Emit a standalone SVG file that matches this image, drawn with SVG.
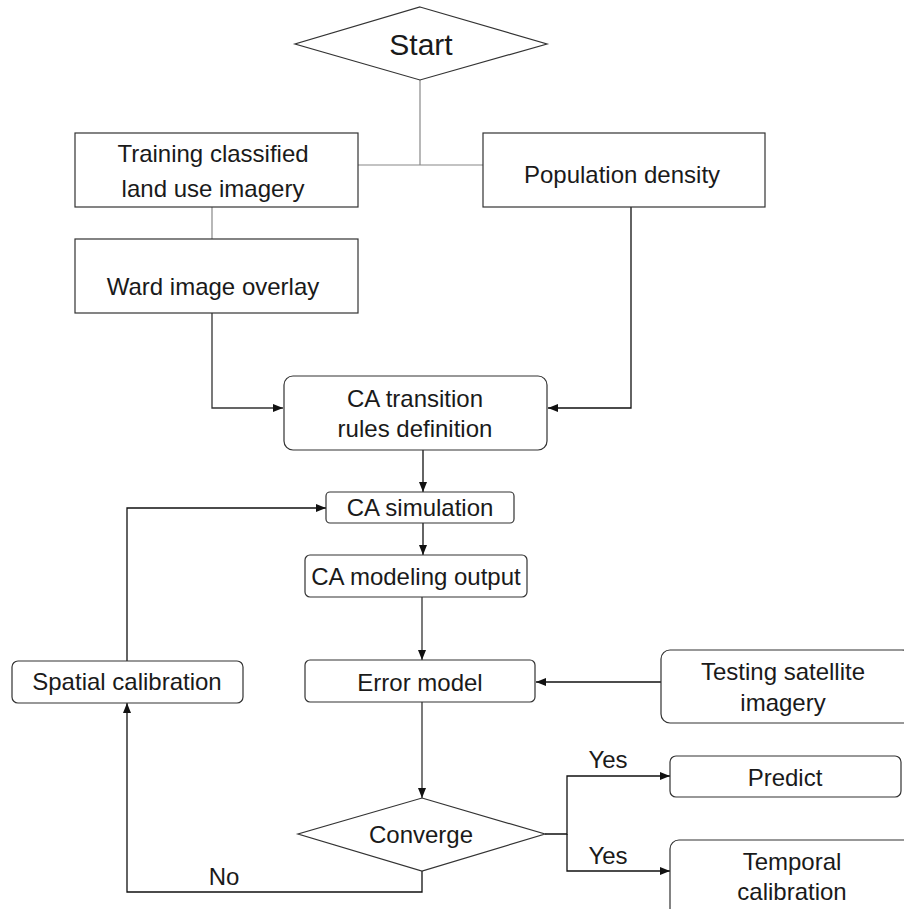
<svg xmlns="http://www.w3.org/2000/svg" width="904" height="909" viewBox="0 0 904 909">
<style>
.box{fill:#fff;stroke:#333;stroke-width:1.2}
.t{font-family:"Liberation Sans",Arial,sans-serif;font-size:24px;fill:#1a1a1a;text-anchor:middle}
.ln{fill:none;stroke:#888;stroke-width:1.2}
.ar{fill:none;stroke:#111;stroke-width:1.3}
</style>
<defs>
<marker id="ah" viewBox="0 0 10 10" refX="10" refY="5" markerWidth="10" markerHeight="10" markerUnits="userSpaceOnUse" orient="auto">
<path d="M0,1 L10,5 L0,9 Z" fill="#111"/>
</marker>
</defs>
<rect width="904" height="909" fill="#fff"/>
<g id="connectors">
<path class="ln" d="M420,80 V165"/>
<path class="ln" d="M358,165 H483"/>
<path class="ln" d="M212,207 V239"/>
<path class="ar" d="M212,313 V408 H283" marker-end="url(#ah)" style="stroke:#333"/>
<path class="ar" d="M631,207 V408 H548" marker-end="url(#ah)"/>
<path class="ar" d="M423,450 V492" marker-end="url(#ah)"/>
<path class="ar" d="M423,523 V555" marker-end="url(#ah)"/>
<path class="ar" d="M422,597 V660" marker-end="url(#ah)" style="stroke:#333"/>
<path class="ar" d="M661,682 H536" marker-end="url(#ah)"/>
<path class="ar" d="M422,702 V798" marker-end="url(#ah)" style="stroke:#333"/>
<path class="ar" d="M422,871 V892 H127 V703" marker-end="url(#ah)"/>
<path class="ar" d="M127,661 V508 H326" marker-end="url(#ah)"/>
<path class="ar" d="M545,834 H567 V776 H670" marker-end="url(#ah)"/>
<path class="ar" d="M567,834 V871 H670" marker-end="url(#ah)"/>
<text class="t" x="608" y="768">Yes</text>
<text class="t" x="608" y="864">Yes</text>
<text class="t" x="224" y="885">No</text>
</g>
<g id="start">
<polygon class="box" points="420,7 547,44 420,80 295,44"/>
<text class="t" x="421" y="55" style="font-size:30px">Start</text>
</g>
<g id="training">
<rect class="box" x="75" y="133" width="283" height="74"/>
<text class="t" x="213" y="162">Training classified</text>
<text class="t" x="213" y="197">land use imagery</text>
</g>
<g id="population">
<rect class="box" x="483" y="133" width="282" height="74"/>
<text class="t" x="622" y="183">Population density</text>
</g>
<g id="ward">
<rect class="box" x="75" y="239" width="283" height="74"/>
<text class="t" x="213" y="295">Ward image overlay</text>
</g>
<g id="catrans">
<rect class="box" x="284" y="376" width="263" height="74" rx="9"/>
<text class="t" x="415" y="407">CA transition</text>
<text class="t" x="415" y="437">rules definition</text>
</g>
<g id="casim">
<rect class="box" x="326" y="492" width="188" height="31" rx="4"/>
<text class="t" x="420" y="516">CA simulation</text>
</g>
<g id="camod">
<rect class="box" x="305" y="555" width="222" height="42" rx="5"/>
<text class="t" x="416" y="585">CA modeling output</text>
</g>
<g id="error">
<rect class="box" x="305" y="660" width="230" height="42" rx="5"/>
<text class="t" x="420" y="691">Error model</text>
</g>
<g id="testing">
<rect class="box" x="661" y="650" width="250" height="73" rx="9"/>
<text class="t" x="783" y="680">Testing satellite</text>
<text class="t" x="783" y="711">imagery</text>
</g>
<g id="spatial">
<rect class="box" x="12" y="661" width="231" height="42" rx="6"/>
<text class="t" x="127" y="690">Spatial calibration</text>
</g>
<g id="converge">
<polygon class="box" points="422,798 545,834 422,871 298,834"/>
<text class="t" x="421" y="843">Converge</text>
</g>
<g id="predict">
<rect class="box" x="670" y="756" width="231" height="41" rx="6"/>
<text class="t" x="785" y="786">Predict</text>
</g>
<g id="temporal">
<rect class="box" x="670" y="840" width="250" height="90" rx="9"/>
<text class="t" x="792" y="870">Temporal</text>
<text class="t" x="792" y="900">calibration</text>
</g>
</svg>
